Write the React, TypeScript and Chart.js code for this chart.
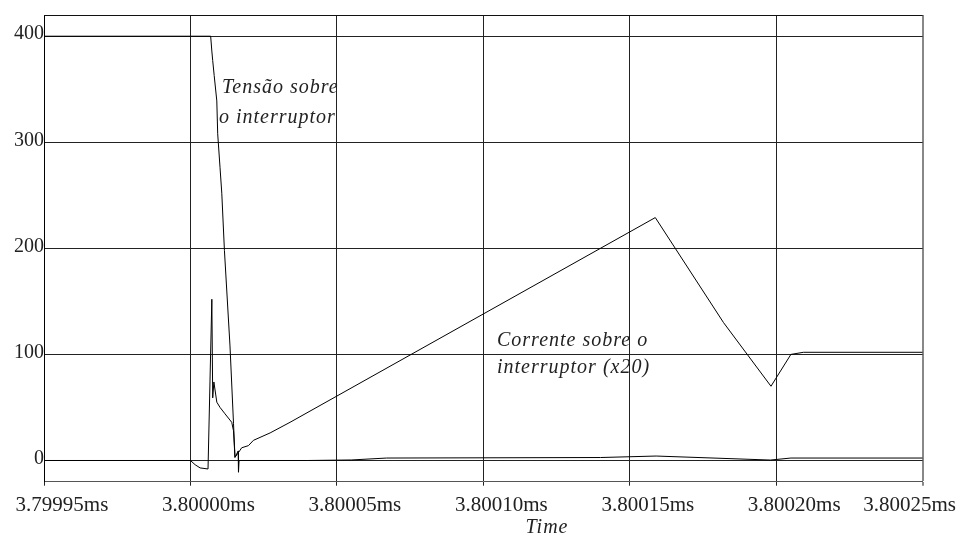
import React, { useEffect, useRef } from "react";
import { Chart, registerables } from "chart.js";
Chart.register(...registerables);

// time axis in ns relative to 3.80000ms
const tickTimes = [-50, 0, 50, 100, 150, 200, 250];
const tickLabels = ["3.79995ms", "3.80000ms", "3.80005ms", "3.80010ms", "3.80015ms", "3.80020ms", "3.80025ms"];
const yTicks = [0, 100, 200, 300, 400];

const voltageTime = [-50, 6.9, 7.3, 7.6, 8.1, 9.0, 9.3, 10.1, 10.7, 11.6, 13.5, 14.7, 15.2, 16.3, 16.4, 16.6, 40, 55, 67, 140, 159, 198, 205, 250];
const voltageValue = [400, 400, 386, 377, 363, 339, 308, 276, 252, 198, 108, 35, 3, 9, -11, 0, 0, 0.5, 2.3, 2.8, 4.2, 0.4, 2.3, 2.3];

const currentTime = [-50, 0, 1.6, 3.3, 6.0, 7.3, 7.6, 8.0, 9.0, 10.1, 11.8, 14.1, 14.7, 15.2, 16.4, 17.5, 19.8, 21.5, 27.2, 34.0, 158.7, 182, 198.2, 205, 209.3, 250];
const currentValue = [0, 0, -4, -7, -8, 152, 59, 74, 55, 50, 44, 36, 28, 3, 7.5, 12, 14, 19, 26, 36, 229, 130, 70, 100, 102, 102];

const FONT = '"Liberation Serif", "Times New Roman", serif';

export default function App() {
  const ref = useRef<HTMLCanvasElement | null>(null);
  useEffect(() => {
    const canvas = ref.current;
    if (!canvas) return;
    const overlay = {
      id: "overlay",
      beforeDraw(chart: any) {
        const c = chart.ctx;
        c.save();
        c.fillStyle = "#fff";
        c.fillRect(0, 0, chart.width, chart.height);
        c.restore();
      },
      afterDraw(chart: any) {
        const c = chart.ctx;
        const a = chart.chartArea;
        const xs = chart.scales.x;
        c.save();
        c.strokeStyle = "#111";
        c.lineWidth = 1;
        c.beginPath();
        c.moveTo(a.left, a.top + 0.5);
        c.lineTo(a.right, a.top + 0.5);
        c.stroke();
        c.fillStyle = "#222";
        c.font = `21px ${FONT}`;
        c.textBaseline = "middle";
        c.textAlign = "center";
        tickTimes.forEach((t, i) => {
          const label = tickLabels[i];
          const w = c.measureText(label).width;
          let cx = xs.getPixelForValue(t) + 18;
          if (cx + w / 2 > chart.width - 6) cx = chart.width - 6 - w / 2;
          c.fillText(label, cx, a.bottom + 23.5);
        });
        c.font = `italic 20px ${FONT}`;
        (c as any).letterSpacing = "1px";
        c.fillText("Time", 547, a.bottom + 46);
        c.textAlign = "left";
        c.font = `italic 20px ${FONT}`;
        (c as any).letterSpacing = "1px";
        c.fillText("Tensão sobre", 222, 88);
        c.fillText("o interruptor", 219, 118);
        c.fillText("Corrente sobre o", 497, 341);
        c.fillText("interruptor (x20)", 497, 368);
        (c as any).letterSpacing = "0px";
        c.restore();
      },
    };
    const chart = new Chart(canvas, {
      type: "line",
      data: {
        datasets: [
          {
            label: "Tensão",
            data: voltageTime.map((t, i) => ({ x: t, y: voltageValue[i] })),
            borderColor: "#000",
            borderWidth: 1,
            pointRadius: 0,
            tension: 0,
          },
          {
            label: "Corrente",
            data: currentTime.map((t, i) => ({ x: t, y: currentValue[i] })),
            borderColor: "#000",
            borderWidth: 1,
            pointRadius: 0,
            tension: 0,
          },
        ],
      },
      options: {
        responsive: false,
        animation: false,
        events: [],
        layout: { padding: { top: 15, right: 39.3, left: 0, bottom: 0 } },
        plugins: { legend: { display: false }, tooltip: { enabled: false } },
        scales: {
          x: {
            type: "linear",
            min: -50,
            max: 250,
            ticks: { display: false },
            afterBuildTicks: (s: any) => {
              s.ticks = tickTimes.map((v) => ({ value: v }));
            },
            afterFit: (s: any) => {
              s.height = 543 - 481.7;
              s.paddingLeft = 0;
              s.paddingRight = 0;
            },
            grid: {
              color: (ctx: any) => (ctx.tick && ctx.tick.value === 250 ? "#888" : "#222"),
              lineWidth: (ctx: any) => (ctx.tick && ctx.tick.value === 250 ? 2 : 1),
              drawTicks: true,
              tickLength: 4,
            },
            border: { color: "#555", width: 1 },
          },
          y: {
            type: "linear",
            min: -20,
            max: 420,
            afterBuildTicks: (s: any) => {
              s.ticks = yTicks.map((v) => ({ value: v }));
            },
            afterFit: (s: any) => {
              s.width = 44;
              s.paddingTop = 0;
              s.paddingBottom = 0;
            },
            ticks: {
              color: "#222",
              font: { family: FONT, size: 20 },
              padding: 0,
              labelOffset: -2,
              callback: (v: any) => String(v),
            },
            grid: { color: "#222", lineWidth: 1, drawTicks: false },
            border: { color: "#000", width: 1 },
          },
        },
      },
      plugins: [overlay],
    } as any);
    return () => chart.destroy();
  }, []);
  return (
    <div style={{ position: "fixed", left: 0, top: 0, width: 962, height: 543, background: "#fff" }}>
      <canvas ref={ref} width={962} height={543} />
    </div>
  );
}
